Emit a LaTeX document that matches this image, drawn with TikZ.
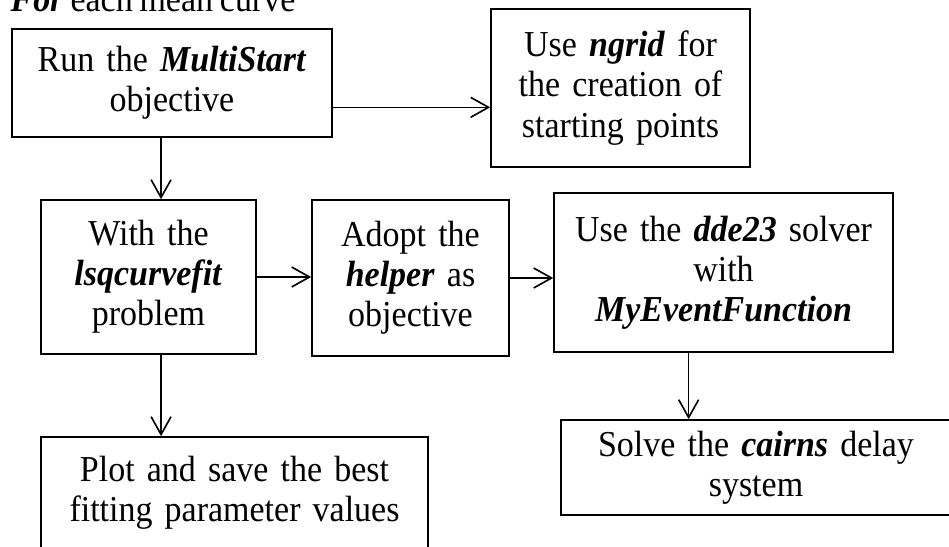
\documentclass[tikz,border=0pt]{standalone}
\usepackage{fontspec}
\setmainfont{Liberation Serif}[FakeStretch=0.93, WordSpace=0.8]
\usetikzlibrary{arrows.meta,calc}
\newcommand{\kw}[1]{\textbf{\textit{#1}}}
\tikzset{
  txt/.style={font=\fontsize{12.3pt}{13.5pt}\selectfont},
  box/.style={txt, draw, line width=0.55pt, rectangle, inner sep=0pt, align=center},
  arr/.style={draw, line width=0.55pt, -{Straight Barb[length=6pt,width=6.7pt]}},
}
\begin{document}
\begin{tikzpicture}[x=0.3367pt, y=-0.3367pt]
  \useasboundingbox (0,0) rectangle (949,546);
  \clip (0,0) rectangle (949,546);

  % loop heading
  \node (title) [txt, anchor=base west, inner sep=0pt] at (10,12) {\kw{For} each mean curve};

  % process boxes
  \node (run)    [box, text width=107.74pt, minimum height=36.36pt] at (172,83)
        {Run the \kw{MultiStart}\\objective};
  \node (ngrid)  [box, text width=87.2pt, minimum height=53.2pt] at (620.5,88)
        {Use \kw{ngrid} for\\the creation of\\starting points};
  \node (lsq)    [box, text width=72.39pt, minimum height=51.85pt] at (148.5,277)
        {With the\\\kw{lsqcurvefit}\\problem};
  \node (helper) [box, text width=66.33pt, minimum height=52.53pt] at (410.5,278)
        {Adopt the\\\kw{helper} as\\objective};
  \node (dde)    [box, text width=114.14pt, minimum height=53.54pt] at (723.5,272.5)
        {Use the \kw{dde23} solver\\with\\\kw{MyEventFunction}};
  \node (plot)   [box, text width=130.3pt, minimum height=37.71pt] at (234.5,493)
        {Plot and save the best\\fitting parameter values};
  \node (cairns) [box, text width=131.3pt, minimum height=31.99pt] at (756,467.5)
        {Solve the \kw{cairns} delay\\system};

  % connectors
  \coordinate (colL) at ($(lsq.north west)!0.558!(lsq.north east)$);
  \coordinate (rowR) at ($(run.south east)!0.278!(run.north east)$);
  \coordinate (colR) at ($(cairns.north west)!0.328!(cairns.north east)$);

  \draw[arr] (run.south -| colL) -- (colL);
  \draw[arr] (rowR) -- (rowR -| ngrid.west);
  \draw[arr] (lsq.east) -- (lsq.east -| helper.west);
  \draw[arr] (helper.east) -- (helper.east -| dde.west);
  \draw[arr] (lsq.south -| colL) -- (plot.north -| colL);
  \draw[arr] (dde.south -| colR) -- (colR);
\end{tikzpicture}
\end{document}
